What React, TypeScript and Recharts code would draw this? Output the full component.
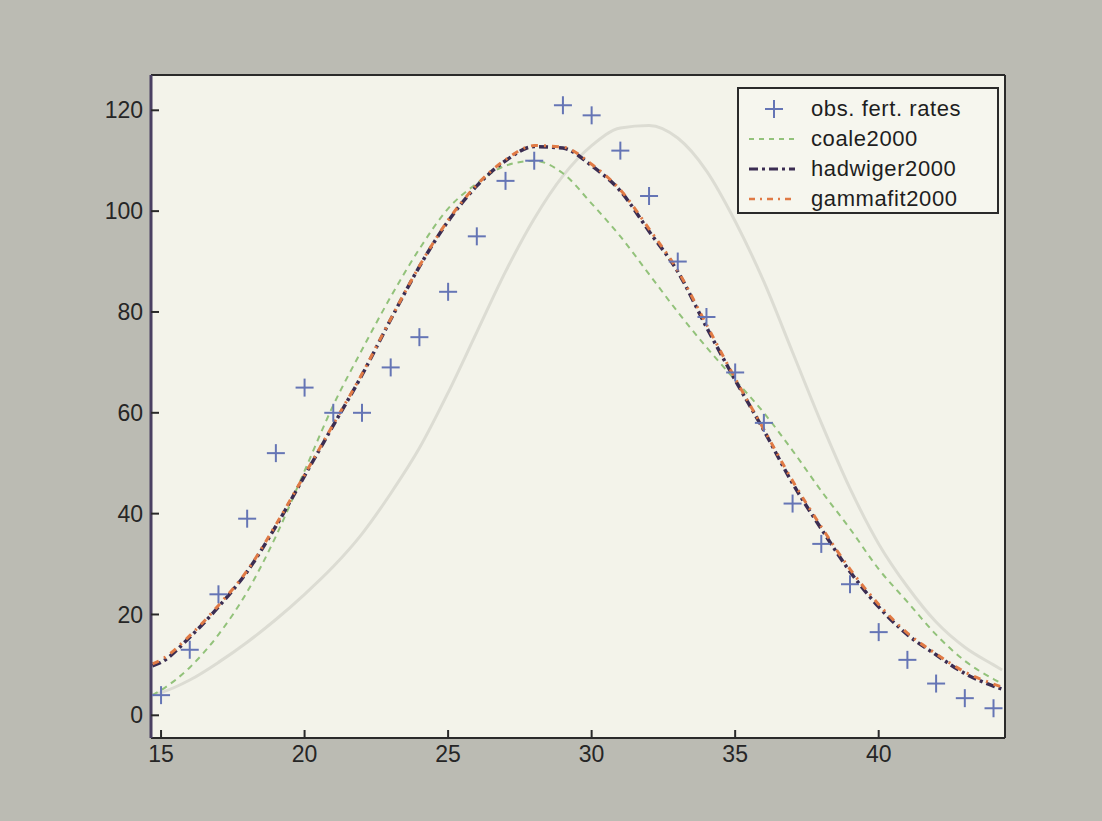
// Fertility rates 2000: observed values and three fitted models
import {
  ComposedChart,
  Line,
  Scatter,
  XAxis,
  YAxis,
  CartesianGrid,
} from "recharts";

const curveAges = [14.7, 15, 16, 17, 18, 19, 20, 21, 22, 23, 24, 25, 26, 27, 28, 29, 30, 31, 32, 33, 34, 35, 36, 37, 38, 39, 40, 41, 42, 43, 44, 44.3];
const coale2000 = [4, 5, 9.5, 16, 24.5, 35.5, 48.5, 61.5, 72.5, 83, 92.5, 100.5, 105.5, 109, 110, 107.5, 101.5, 95, 87.5, 80, 73, 66.5, 60, 52.5, 44.5, 37, 29, 22.5, 16, 10.8, 7.2, 6.3];
const hadwiger2000 = [9.8, 10.5, 15.5, 21.5, 28.5, 37.5, 47.5, 57.5, 67.5, 78.5, 89, 98, 105, 110, 112.8, 112.5, 109, 104, 96, 88, 77, 66.5, 56.5, 46, 37, 28.5, 21.5, 16, 12, 8.3, 5.8, 5.2];
const gammafit2000 = [10.2, 11, 15.8, 21.8, 28.7, 37.8, 47.7, 57.7, 67.7, 78.6, 89.1, 98.2, 105.2, 110.2, 113, 112.7, 109.3, 104.2, 96.5, 88.2, 77.5, 66.8, 56.7, 46.5, 37.4, 29, 22, 16.3, 12.2, 8.6, 6.2, 5.6];
// faint curve showing through from the back of the scanned page
const ghostCurve = [4, 4.5, 7, 10.5, 14.5, 19, 24, 29.5, 36, 44, 53, 64, 76, 88, 98.5, 107, 113, 116.5, 117, 114.5, 108, 98, 86, 72, 58, 45, 34, 25.5, 18.5, 13.5, 10, 9];

const obsAges = [15, 16, 17, 18, 19, 20, 21, 22, 23, 24, 25, 26, 27, 28, 29, 30, 31, 32, 33, 34, 35, 36, 37, 38, 39, 40, 41, 42, 43, 44];
const obsRates = [4, 13, 24, 39, 52, 65, 60, 60, 69, 75, 84, 95, 106, 110, 121, 119, 112, 103, 90, 79, 68, 58, 42, 34, 26, 16.5, 11, 6.3, 3.4, 1.4];

const xTicks = [15, 20, 25, 30, 35, 40];
const yTicks = [0, 20, 40, 60, 80, 100, 120];

const curveData = curveAges.map((age, i) => ({
  age,
  coale: coale2000[i],
  hadwiger: hadwiger2000[i],
  gamma: gammafit2000[i],
  ghost: ghostCurve[i],
}));
const obsData = obsAges.map((age, i) => ({ age, rate: obsRates[i] }));

const FONT = "'Liberation Sans', Arial, sans-serif";
const BLUE = "#6575b5";
const GREEN = "#92c27a";
const DARK = "#3b2d52";
const ORANGE = "#e07a45";

function Cross(props: any) {
  const { cx, cy } = props;
  if (cx == null || cy == null) return null;
  const r = 9;
  return (
    <g stroke={BLUE} strokeWidth={2}>
      <line x1={cx - r} y1={cy} x2={cx + r} y2={cy} />
      <line x1={cx} y1={cy - r} x2={cx} y2={cy + r} />
    </g>
  );
}

const legendRows = [
  { label: "obs. fert. rates", kind: "cross" },
  { label: "coale2000", color: GREEN, dash: "5 5", width: 2 },
  { label: "hadwiger2000", color: DARK, dash: "9 4 3 4", width: 3 },
  { label: "gammafit2000", color: ORANGE, dash: "6 5 2 5", width: 2.5 },
];

function LegendBox() {
  return (
    <div
      style={{
        position: "absolute",
        left: 737,
        top: 87,
        width: 262,
        height: 127,
        border: "2px solid #2a2a2a",
        background: "#f6f6ee",
        paddingTop: 5,
        boxSizing: "border-box",
      }}
    >
      {legendRows.map((row) => (
        <div key={row.label} style={{ display: "flex", alignItems: "center", height: 30 }}>
          <svg width={72} height={30}>
            {row.kind === "cross" ? (
              <g stroke={BLUE} strokeWidth={2}>
                <line x1={26} y1={15} x2={44} y2={15} />
                <line x1={35} y1={6} x2={35} y2={24} />
              </g>
            ) : (
              <line
                x1={10}
                y1={15}
                x2={56}
                y2={15}
                stroke={row.color}
                strokeWidth={row.width}
                strokeDasharray={row.dash}
              />
            )}
          </svg>
          <span
            style={{
              fontFamily: FONT,
              fontSize: 22,
              color: "#1e1e1e",
              letterSpacing: 0.6,
            }}
          >
            {row.label}
          </span>
        </div>
      ))}
    </div>
  );
}

export default function App() {
  return (
    <div
      style={{
        position: "absolute",
        left: 0,
        top: 0,
        width: 1102,
        height: 821,
        background: "#bbbbb3",
      }}
    >
      <ComposedChart
        width={1102}
        height={821}
        data={curveData}
        margin={{ top: 74, right: 96, bottom: 43, left: 91 }}
      >
        <CartesianGrid horizontal={false} vertical={false} fill="#f3f3ea" />
        <XAxis
          xAxisId="bottom"
          dataKey="age"
          type="number"
          domain={[14.65, 44.4]}
          ticks={xTicks}
          height={40}
          allowDataOverflow
          axisLine={{ stroke: "#2a2a2a", strokeWidth: 2 }}
          tickLine={{ stroke: "#2a2a2a", strokeWidth: 2 }}
          tickSize={-8}
          tickMargin={16}
          tick={{ fill: "#262626", fontSize: 23, fontFamily: FONT }}
        />
        <XAxis
          xAxisId="top"
          orientation="top"
          dataKey="age"
          type="number"
          domain={[14.65, 44.4]}
          ticks={xTicks}
          height={1}
          allowDataOverflow
          axisLine={{ stroke: "#2a2a2a", strokeWidth: 2 }}
          tickLine={{ stroke: "#2a2a2a", strokeWidth: 1.5 }}
          tickSize={-8}
          tick={false}
        />
        <YAxis
          yAxisId="left"
          type="number"
          domain={[-4.5, 127]}
          ticks={yTicks}
          width={60}
          allowDataOverflow
          axisLine={{ stroke: "#4a4062", strokeWidth: 3 }}
          tickLine={{ stroke: "#2a2a2a", strokeWidth: 2 }}
          tickSize={-8}
          tickMargin={16}
          tick={{ fill: "#262626", fontSize: 23, fontFamily: FONT }}
        />
        <YAxis
          yAxisId="right"
          orientation="right"
          type="number"
          domain={[-4.5, 127]}
          ticks={yTicks}
          width={1}
          allowDataOverflow
          axisLine={{ stroke: "#2a2a2a", strokeWidth: 2 }}
          tickLine={{ stroke: "#2a2a2a", strokeWidth: 1.5 }}
          tickSize={-8}
          tick={false}
        />
        <Line
          xAxisId="bottom"
          yAxisId="left"
          dataKey="ghost"
          type="monotone"
          stroke="#dcdcd3"
          strokeWidth={3}
          dot={false}
          legendType="none"
          isAnimationActive={false}
        />
        <Line
          xAxisId="bottom"
          yAxisId="left"
          dataKey="coale"
          name="coale2000"
          type="monotone"
          stroke={GREEN}
          strokeWidth={2}
          strokeDasharray="6 5"
          dot={false}
          isAnimationActive={false}
        />
        <Line
          xAxisId="bottom"
          yAxisId="left"
          dataKey="hadwiger"
          name="hadwiger2000"
          type="monotone"
          stroke={DARK}
          strokeWidth={3.5}
          strokeDasharray="9 4 3 4"
          dot={false}
          isAnimationActive={false}
        />
        <Line
          xAxisId="bottom"
          yAxisId="left"
          dataKey="gamma"
          name="gammafit2000"
          type="monotone"
          stroke={ORANGE}
          strokeWidth={3}
          strokeDasharray="7 6 2 6"
          dot={false}
          isAnimationActive={false}
        />
        <Scatter
          xAxisId="bottom"
          yAxisId="left"
          data={obsData}
          dataKey="rate"
          name="obs. fert. rates"
          shape={<Cross />}
          isAnimationActive={false}
        />
      </ComposedChart>
      <LegendBox />
    </div>
  );
}
